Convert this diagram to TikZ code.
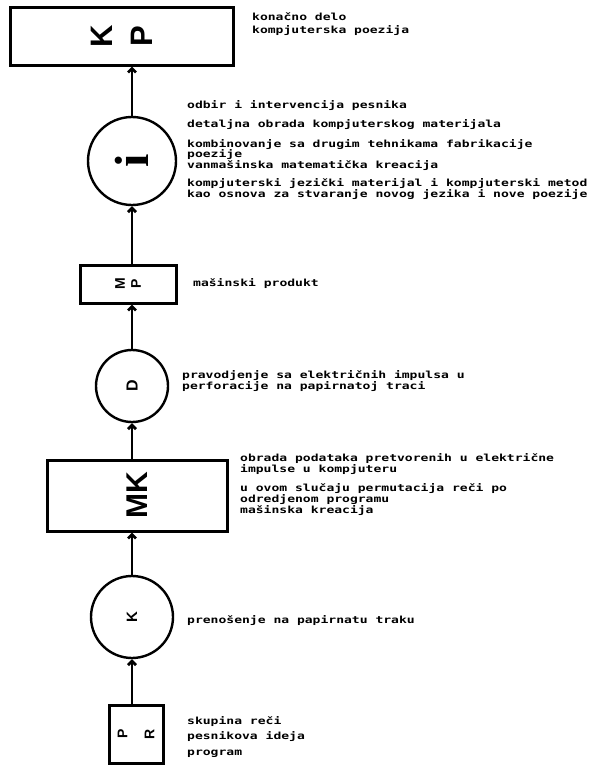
\documentclass[tikz,border=0pt]{standalone}
\usepackage{fontspec}
\setmainfont{Liberation Sans}
\newfontfamily\typefont[FakeStretch=1.33]{DejaVu Sans Mono}
\newfontfamily\slabfont{Liberation Serif}
\usetikzlibrary{arrows.meta,positioning}

\begin{document}
\begin{tikzpicture}[
    x=1pt, y=-1pt,
    stage/.style={draw, rectangle, line width=3pt, inner sep=0pt},
    disc/.style={draw, circle, line width=2.4pt, inner sep=0pt},
    tag/.style={rotate=90, align=center, inner sep=0pt},
    note/.style={anchor=west, align=left, inner sep=0pt,
                 font=\typefont\bfseries\fontsize{9.8}{10}\selectfont},
    arr/.style={-{Straight Barb[length=4pt,width=8pt]}, line width=2.7pt},
  ]
  \useasboundingbox (0,0) rectangle (591,766);

  \node[stage, minimum width=223pt, minimum height=58pt] (kp) at (121.5,36) {};
  \node[tag, font=\bfseries\fontsize{31}{40}\selectfont] at (kp) {K\\P};
  \node[disc, minimum size=88pt] (ic) at (132,161) {};
  \node[tag, font=\slabfont\bfseries\fontsize{48}{48}\selectfont] at (ic) {i};
  \node[stage, minimum width=96pt, minimum height=38pt] (mp) at (128,284) {};
  \node[tag, font=\bfseries\fontsize{14}{16}\selectfont] at (mp) {M\\P};
  \node[disc, minimum size=72pt] (dc) at (132,386) {};
  \node[tag, font=\bfseries\fontsize{16}{16}\selectfont] at (dc) {D};
  \node[stage, minimum width=180pt, minimum height=71pt] (mk) at (137,495.5) {};
  \node[tag, font=\bfseries\fontsize{30}{30}\selectfont] at (mk) {MK};
  \node[disc, minimum size=82pt] (kc) at (132,617) {};
  \node[tag, font=\bfseries\fontsize{15}{15}\selectfont] at (kc) {K};
  \node[stage, minimum width=54pt, minimum height=58pt] (pr) at (136,734) {};
  \node[tag, font=\bfseries\fontsize{14}{27}\selectfont] at (pr) {P\\R};

  \draw[arr] (kc.south |- pr.north) -- (kc.south);
  \draw[arr] (kc.north) -- (kc.north |- mk.south);
  \draw[arr] (dc.south |- mk.north) -- (dc.south);
  \draw[arr] (dc.north) -- (dc.north |- mp.south);
  \draw[arr] (ic.south |- mp.north) -- (ic.south);
  \draw[arr] (ic.north) -- (ic.north |- kp.south);

  \node[note, font=\typefont\bfseries\fontsize{9.8}{13}\selectfont] (kpnote) at (252,24)
    {konačno delo\\kompjuterska poezija};
  \node[note] (icnote) at (187,150)
    {odbir i intervencija pesnika\\[8.5pt]
     detaljna obrada kompjuterskog materijala\\[8.5pt]
     kombinovanje sa drugim tehnikama fabrikacije\\
     poezije\\
     vanmašinska matematička kreacija\\[8.5pt]
     kompjuterski jezički materijal i kompjuterski metod\\
     kao osnova za stvaranje novog jezika i nove poezije};
  \node[note] (mpnote) at (193,284) {mašinski produkt};
  \node[note, font=\typefont\bfseries\fontsize{9.8}{11}\selectfont] (dcnote) at (182,381)
    {pravodjenje sa električnih impulsa u\\perforacije na papirnatoj traci};
  \node[note] (mknote) at (240,485)
    {obrada podataka pretvorenih u električne\\
     impulse u kompjuteru\\[8pt]
     u ovom slučaju permutacija reči po\\
     odredjenom programu\\
     mašinska kreacija};
  \node[note] (kcnote) at (187,621) {prenošenje na papirnatu traku};
  \node[note, font=\typefont\bfseries\fontsize{9.8}{15.5}\selectfont] (prnote) at (187,737)
    {skupina reči\\pesnikova ideja\\program};
\end{tikzpicture}
\end{document}
